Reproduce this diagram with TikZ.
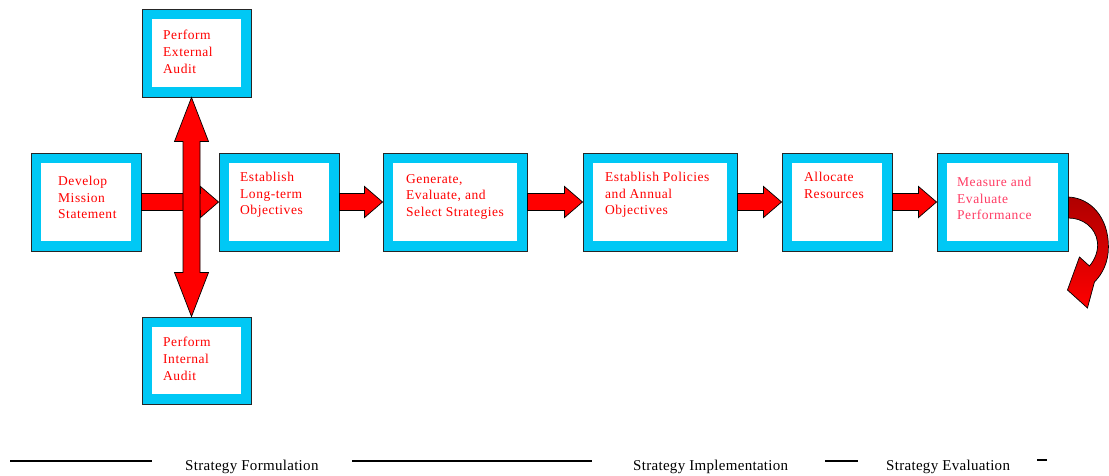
\documentclass[tikz,border=0pt]{standalone}
\usepackage{fontspec}
\setmainfont{Liberation Serif}
\newfontfamily\boxfont[LetterSpace=4]{Liberation Serif}
\newfontfamily\phasefont[LetterSpace=2]{Liberation Serif}
\usetikzlibrary{calc}

\definecolor{boxcyan}{RGB}{0,200,245}
\definecolor{flowred}{RGB}{255,0,0}
\definecolor{darkflow}{RGB}{175,0,0}
\definecolor{evalpink}{RGB}{255,60,100}

% horizontal block arrow from the east side of #1 to the west side of #2
\newcommand\flowarrow[2]{%
  \draw[blockarrow] let \p1=(#1.east), \p2=(#2.west) in
    (\x1,\y1+8.5pt) -- (\x2-18pt,\y1+8.5pt) -- (\x2-18pt,\y1+15.5pt) --
    (\x2,\y1) --
    (\x2-18pt,\y1-15.5pt) -- (\x2-18pt,\y1-8.5pt) -- (\x1,\y1-8.5pt) -- cycle;}

% cyan framed box with white interior
\newcommand\stage[4]{%
  \node[stagebox, minimum width=#3, minimum height=#4] (#1) at (#2) {};
  \fill[white] ($(#1.north west)+(10.5,10.5)$) rectangle ($(#1.south east)+(-10.5,-10.5)$);}

\begin{document}
\begin{tikzpicture}[x=1pt, y=-1pt,
  stagebox/.style={draw=black!85, line width=0.9pt, fill=boxcyan, inner sep=0pt},
  stagetext/.style={font=\boxfont\fontsize{13.5}{16.7}\selectfont, text=flowred,
                    align=left, inner sep=0pt, anchor=north west},
  blockarrow/.style={draw=black, line width=0.7pt, fill=flowred, line join=miter},
  phase/.style={font=\phasefont\fontsize{15}{18}\selectfont, text=black,
                inner sep=0pt, anchor=base west},
  phaseline/.style={draw=black, line width=1.2pt}]

\useasboundingbox (0,0) rectangle (1109,475);

% boxes
\stage{mission}{86,202}{110}{98}
\stage{longterm}{279,202}{120}{98}
\stage{external}{196.5,53}{109}{88}
\stage{internal}{196.5,360.5}{109}{87}
\stage{generate}{455,202}{144}{98}
\stage{policies}{660,202}{154}{98}
\stage{allocate}{837,202}{110}{98}
\stage{measure}{1002.5,202}{131}{98}

% box labels
\node[stagetext] (mission-t)  at (58,176)  {Develop\\Mission\\Statement};
\node[stagetext] (longterm-t) at (240,172) {Establish\\Long-term\\Objectives};
\node[stagetext] (external-t) at (163,30)  {Perform\\External\\Audit};
\node[stagetext] (internal-t) at (163,337) {Perform\\Internal\\Audit};
\node[stagetext] (generate-t) at (406,174) {Generate,\\Evaluate, and\\Select Strategies};
\node[stagetext] (policies-t) at (605,172) {Establish Policies\\and Annual\\Objectives};
\node[stagetext] (allocate-t) at (804,172) {Allocate\\Resources};
\node[stagetext, text=evalpink] (measure-t) at (957,177) {Measure and\\Evaluate\\Performance};

% flow arrows
\flowarrow{mission}{longterm}
\flowarrow{longterm}{generate}
\flowarrow{generate}{policies}
\flowarrow{policies}{allocate}
\flowarrow{allocate}{measure}

% double-headed audit arrow
\draw[blockarrow] let \p1=($(external.south)+(-5,0)$), \p2=($(internal.north)+(-5,0)$) in
  (\x1,\y1) -- (\x1+17pt,\y1-44pt) -- (\x1+8.5pt,\y1-44pt) --
  (\x1+8.5pt,\y2+44pt) -- (\x1+17pt,\y2+44pt) -- (\x2,\y2) --
  (\x1-17pt,\y2+44pt) -- (\x1-8.5pt,\y2+44pt) --
  (\x1-8.5pt,\y1-44pt) -- (\x1-17pt,\y1-44pt) -- cycle;

% feedback arrow curling out of the last box
\begin{scope}[shift={(measure.east)}]
  \draw[draw=black, line width=0.7pt, top color=darkflow, bottom color=flowred,
        line join=miter]
    (0,-5) .. controls (22,-4) and (40,15) .. (40,45)
    .. controls (40,60) and (34,72) .. (26,80)
    -- (19,106) -- (-1,88) -- (11,55) -- (21,64)
    .. controls (27,57) and (30,48) .. (29,40)
    .. controls (27,25) and (14,16) .. (0,16) -- cycle;
\end{scope}

% phase rules and labels
\draw[phaseline] (10,461) -- (152,461);
\node[phase] (formulation) at (185,470) {Strategy Formulation};
\draw[phaseline] (352,461) -- (592,461);
\node[phase] (implementation) at (633,470) {Strategy Implementation};
\draw[phaseline] (825,461) -- (858,461);
\node[phase] (evaluation) at (886,470) {Strategy Evaluation};
\draw[phaseline] (1037,460) -- (1047,460);
\end{tikzpicture}
\end{document}
